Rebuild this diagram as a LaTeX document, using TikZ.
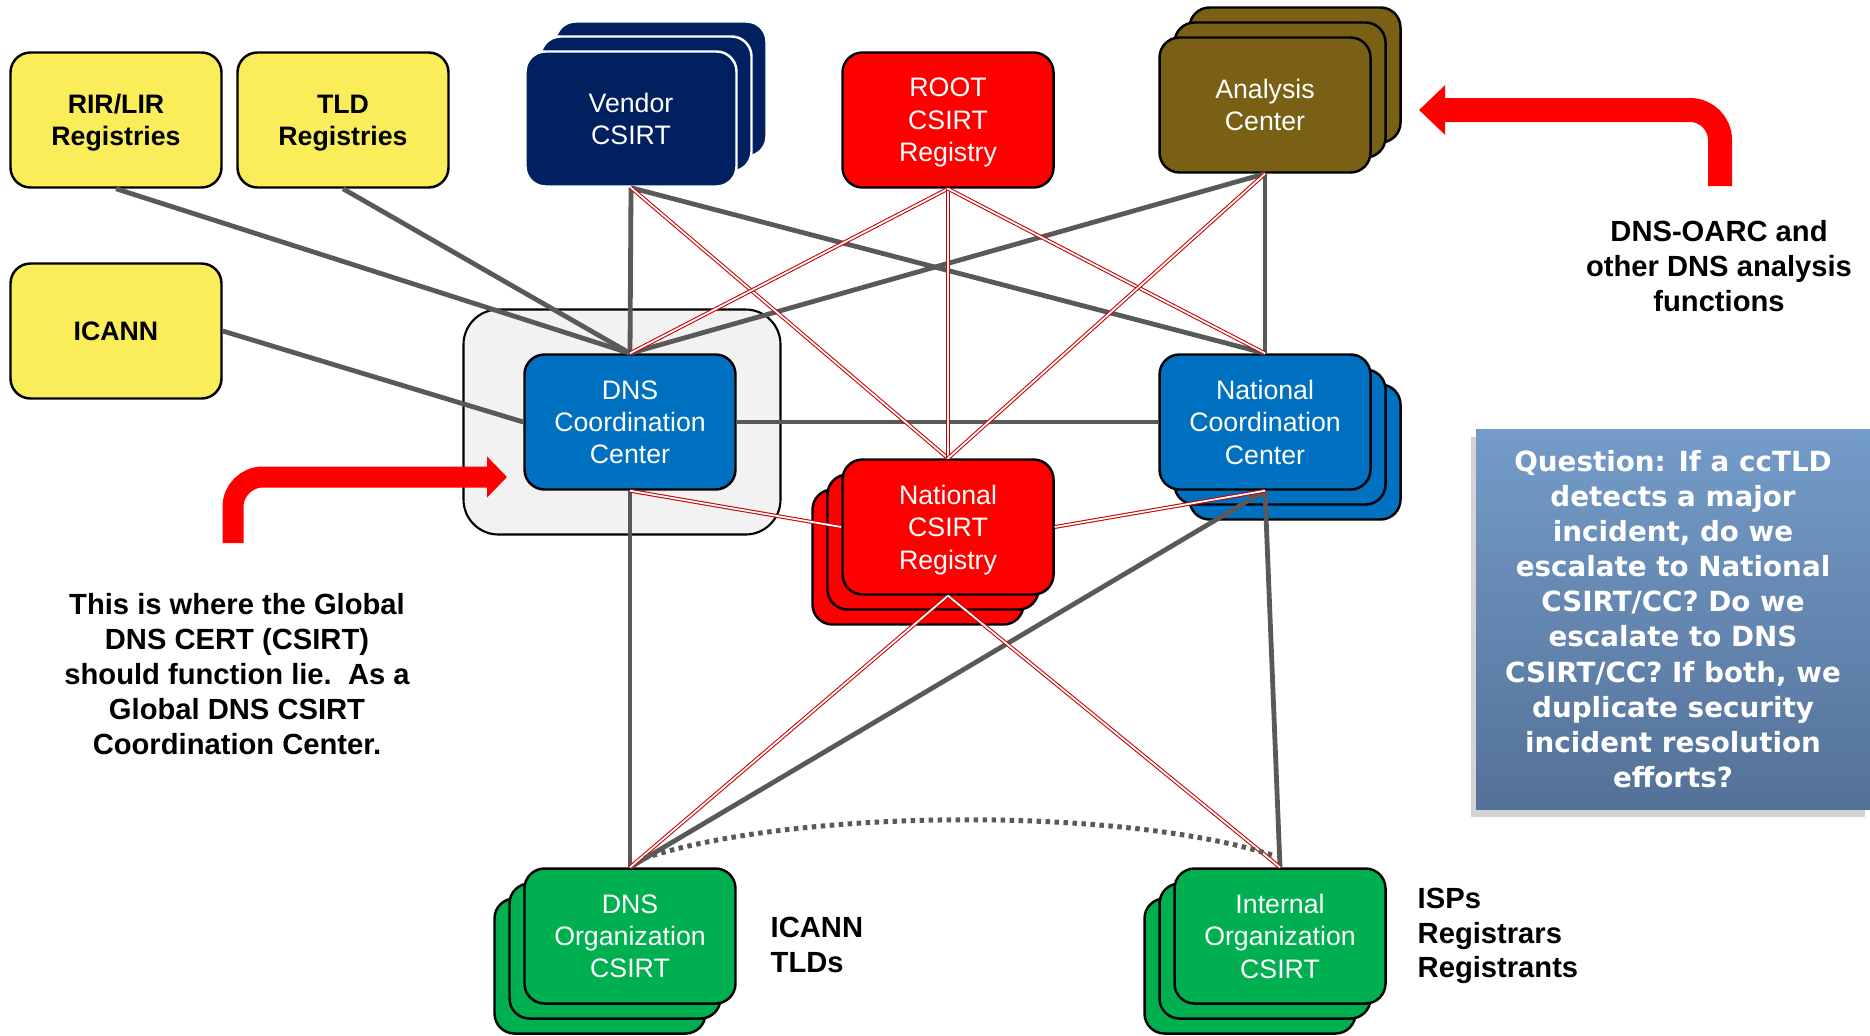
\documentclass[tikz,border=0pt]{standalone}
\usepackage{fontspec}
\setmainfont{Liberation Sans}
\newfontfamily\qfont{DejaVu Sans}
\usetikzlibrary{arrows.meta,shadows}

\definecolor{boxyellow}{RGB}{250,237,90}
\definecolor{vendorblue}{RGB}{0,32,96}
\definecolor{ccblue}{RGB}{0,112,192}
\definecolor{orggreen}{RGB}{0,176,80}
\definecolor{analysisbrown}{RGB}{122,96,20}
\definecolor{linegray}{RGB}{89,89,89}
\definecolor{linkred}{RGB}{200,0,0}
\definecolor{hubgray}{RGB}{242,242,242}
\definecolor{qtop}{RGB}{116,156,201}
\definecolor{qbottom}{RGB}{84,113,152}

\tikzset{
  unit/.style={rectangle, rounded corners=2mm, minimum width=21.1mm, minimum height=13.5mm,
    inner sep=0pt, align=center, draw=black, line width=0.7pt, text=white, text depth=-1.4pt,
    font=\fontsize{7.6}{9.2}\selectfont},
  regbox/.style={unit, fill=boxyellow, text=black, font=\bfseries\fontsize{7.6}{9.2}\selectfont},
  stackup/.style={copy shadow={shadow xshift=3mm,shadow yshift=3mm},
    copy shadow={shadow xshift=1.5mm,shadow yshift=1.5mm}},
  stackdownright/.style={copy shadow={shadow xshift=3mm,shadow yshift=-3mm},
    copy shadow={shadow xshift=1.5mm,shadow yshift=-1.5mm}},
  stackdownleft/.style={copy shadow={shadow xshift=-3mm,shadow yshift=-3mm},
    copy shadow={shadow xshift=-1.5mm,shadow yshift=-1.5mm}},
  link/.style={draw=linegray, line width=0.48mm},
  redlink/.style={draw=linkred, line width=0.3pt, double=white, double distance=0.5pt},
  bigarrow/.style={draw=red, rounded corners=3mm},
  note/.style={inner sep=0pt, font=\bfseries\fontsize{8.3}{9.9}\selectfont}
}

\begin{document}
\begin{tikzpicture}[x=0.1mm, y=-0.1mm]

  \useasboundingbox (0,0) rectangle (1870,1035);
  \clip (0,0) rectangle (1870,1035);

  % grey frame round the DNS coordination center
  \node[rectangle, rounded corners=3.5mm, draw=black, line width=0.6pt, fill=hubgray,
    minimum width=31.7mm, minimum height=22.5mm] at (622,422) (hub) {};

  % top row
  \node[regbox] at (116,120) (rir) {RIR/LIR\\Registries};
  \node[regbox] at (343,120) (tld) {TLD\\Registries};
  \node[regbox] at (116,331) (icann) {ICANN};
  \node[unit, fill=vendorblue, draw=white, stackup] at (631,119) (vendor) {Vendor\\CSIRT};
  \node[unit, fill=red] at (948,120) (root) {ROOT\\CSIRT\\Registry};
  \node[unit, fill=analysisbrown, stackup] at (1265,105) (analysis) {Analysis\\Center};

  % middle row
  \node[unit, fill=ccblue] at (630,422) (dnscc) {DNS\\Coordination\\Center};
  \node[unit, fill=ccblue, stackdownright] at (1265,422) (natcc) {National\\Coordination\\Center};
  \node[unit, fill=red, stackdownleft] at (948,527) (natcsirt) {National\\CSIRT\\Registry};

  % bottom row
  \node[unit, fill=orggreen, stackdownleft] at (630,936) (dnsorg) {DNS\\Organization\\CSIRT};
  \node[unit, fill=orggreen, stackdownleft] at (1280,936) (intorg) {Internal\\Organization\\CSIRT};

  % grey links
  \draw[link] (rir.south) -- (dnscc.north);
  \draw[link] (tld.south) -- (dnscc.north);
  \draw[link] (icann.east) -- (dnscc.west);
  \draw[link] (vendor.south) -- (dnscc.north);
  \draw[link] (vendor.south) -- (natcc.north);
  \draw[link] (analysis.south) -- (dnscc.north);
  \draw[link] (analysis.south) -- (natcc.north);
  \draw[link] (dnscc.east) -- (natcc.west);
  \draw[link] (dnscc.south) -- (dnsorg.north);
  \draw[link] (natcc.south) -- (dnsorg.north);
  \draw[link] (natcc.south) -- (intorg.north);

  % red links
  \draw[redlink] (vendor.south) -- (natcsirt.north);
  \draw[redlink] (root.south) -- (dnscc.north);
  \draw[redlink] (root.south) -- (natcsirt.north);
  \draw[redlink] (root.south) -- (natcc.north);
  \draw[redlink] (analysis.south) -- (natcsirt.north);
  \draw[redlink] (dnscc.south) -- (natcsirt.west);
  \draw[redlink] (natcsirt.east) -- (natcc.south);
  \draw[redlink] (natcsirt.south) -- (dnsorg.north);
  \draw[redlink] (natcsirt.south) -- (intorg.north);

  % dotted arc between the organisation CSIRTs
  \draw[draw=linegray, line width=0.5mm, dash pattern=on 0.45mm off 0.45mm]
    ([xshift=1.4mm,yshift=0.9mm] dnsorg.north) .. controls +(150,-50) and +(-150,-50) .. ([xshift=-0.4mm,yshift=1.1mm] intorg.north);

  % red pointer arrows
  \coordinate (hubfoot) at (233,543);
  \coordinate (hubtip) at (507,477);
  \draw[bigarrow, line width=2.1mm, -{Triangle[width=4mm,length=2mm]}] (hubfoot) |- (hubtip);

  \coordinate (oarcfoot) at (1720,186);
  \coordinate (oarctip) at (1419,110);
  \draw[bigarrow, line width=2.4mm, -{Triangle[width=4.8mm,length=2.6mm]}] (oarcfoot) |- (oarctip);

  % labels
  \node[note, align=center] at (237,674) (hubnote) {This is where the Global\\DNS CERT (CSIRT)\\should function lie.\ \ As a\\Global DNS CSIRT\\Coordination Center.};
  \node[note, align=center] at (1719,266) (oarcnote) {DNS-OARC and\\other DNS analysis\\functions};
  \node[note, align=left, anchor=west] at (770,945) (icannnote) {ICANN\\TLDs};
  \node[note, align=left, anchor=west] at (1417,936) (ispnote) {ISPs\\Registrars\\Registrants};

  \node[rectangle, top color=qtop, bottom color=qbottom, minimum width=39.4mm, minimum height=38mm,
    inner sep=0pt, align=center, text=white, font=\qfont\bfseries\fontsize{7.9}{10}\selectfont,
    drop shadow={shadow xshift=-0.5mm, shadow yshift=-0.8mm, opacity=0.35}] at (1673,619) (question)
    {Question: If a ccTLD\\detects a major\\incident, do we\\escalate to National\\CSIRT/CC? Do we\\escalate to DNS\\CSIRT/CC? If both, we\\duplicate security\\incident resolution\\efforts?};

\end{tikzpicture}
\end{document}
